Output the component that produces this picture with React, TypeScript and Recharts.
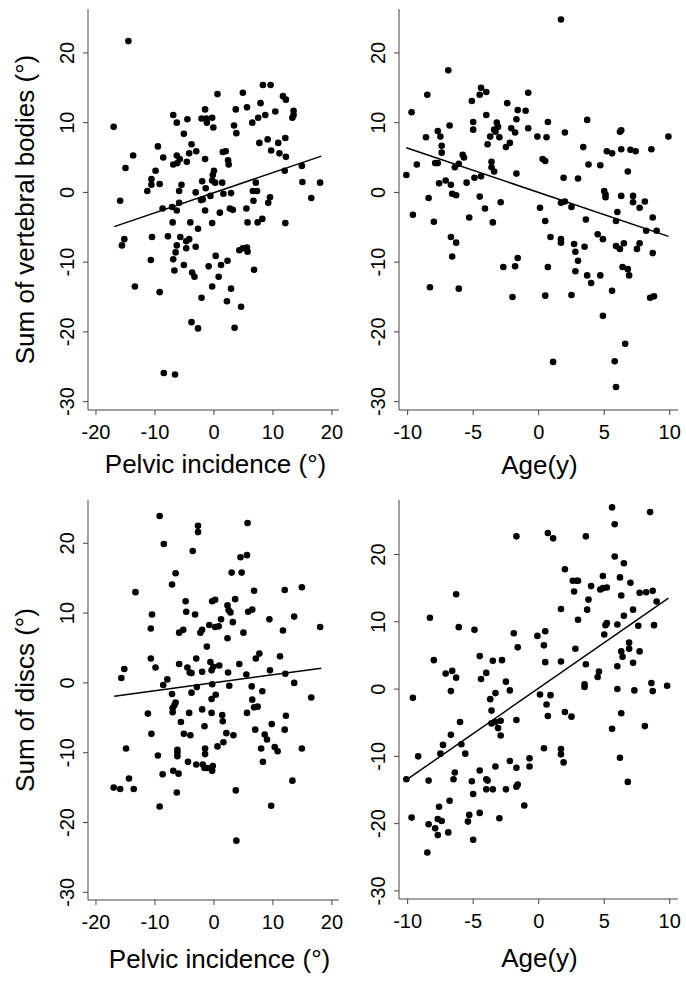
import { ScatterChart, Scatter, XAxis, YAxis, ReferenceLine } from 'recharts';

const FONT = '"Liberation Sans", Arial, Helvetica, sans-serif';

type Pt = [number, number];

// sum of vertebral bodies vs pelvic incidence
const vertebralPelvic: Pt[] = [
  [-14.5, 21.7], [-17.0, 9.4], [-13.7, 5.3], [-15.0, 3.5], [-15.9, -1.2], [-11.3, 0.2], [-10.6, 1.9], [-10.6, 1.1],
  [-9.9, 3.1], [-9.2, 1.2], [-9.5, 6.6], [-8.6, 5.0], [-8.7, -2.3], [-6.9, 11.1], [-6.3, 10.0], [-5.1, 8.4],
  [-6.3, 5.3], [-6.9, 4.0], [-6.2, 4.2], [-5.8, 4.8], [-5.5, 1.1], [-5.9, 0.2], [-7.1, -2.1], [-6.3, -2.6],
  [-5.9, -1.5], [-7.0, -4.3], [-4.5, 10.5], [-4.6, 4.4], [-4.2, 5.6], [-3.8, 6.9], [-3.0, 5.9], [-3.1, 0.0],
  [-4.0, -4.3], [-2.7, -5.2], [-2.0, 1.6], [-2.2, -1.1], [-1.9, -1.0], [-1.5, 11.9], [-2.1, 10.6], [-1.2, 10.0],
  [-1.3, 10.6], [-0.3, 10.7], [-0.1, 9.3], [-1.5, 4.8], [-1.4, 0.6], [-1.5, -2.6], [-0.6, -0.5], [-0.3, 1.7],
  [-0.2, 2.5], [0.0, 3.1], [0.2, 1.4], [-0.3, -4.4], [0.6, 14.1], [1.0, -2.9], [1.5, 5.8], [2.0, 5.9],
  [1.4, 1.4], [1.6, -0.2], [2.4, 4.6], [2.5, 4.0], [2.7, -2.3], [2.9, -0.1], [3.2, -2.5], [3.4, 9.6],
  [3.8, 8.5], [3.7, 11.9], [4.9, 14.3], [5.6, 12.2], [5.5, -2.3], [5.7, -4.3], [6.5, 10.0], [7.5, 10.7],
  [7.9, 12.8], [8.3, 15.4], [9.6, 15.4], [8.7, 11.1], [10.4, 11.6], [7.7, 7.1], [9.1, 7.6], [9.7, 6.0],
  [10.9, 7.1], [11.1, 5.6], [12.1, 7.8], [12.2, 5.1], [12.0, 3.1], [11.7, 13.8], [12.2, 13.3], [13.5, 11.7],
  [13.5, 11.1], [13.3, 10.7], [7.1, 1.4], [6.6, 0.2], [7.3, 0.2], [6.7, -1.2], [9.5, -0.7], [9.2, -1.5],
  [8.2, -3.8], [7.4, -4.3], [12.1, -4.4], [14.9, 3.8], [15.0, 1.5], [16.5, -0.8], [18.0, 1.4],
  [-15.6, -7.6], [-15.2, -6.7], [-10.5, -6.4], [-10.7, -9.7], [-13.4, -13.5], [-9.2, -14.3], [-7.8, -6.3],
  [-6.3, -7.6], [-6.5, -8.6], [-6.9, -9.6], [-6.7, -11.2], [-5.7, -6.4], [-4.7, -7.0], [-4.2, -6.7], [-4.7, -8.0],
  [-3.1, -7.8], [-5.1, -10.4], [-3.7, -11.5], [-3.3, -12.1], [-2.1, -15.1], [-3.8, -18.6], [-2.7, -19.5],
  [-8.5, -25.9], [-6.6, -26.1], [-0.9, -10.6], [0.3, -9.1], [-0.3, -13.5], [0.8, -12.1], [1.2, -10.4],
  [2.3, -9.8], [2.9, -13.8], [2.2, -15.6], [4.6, -16.4], [3.5, -19.4], [4.3, -8.3], [4.9, -8.0], [5.6, -7.9],
  [5.7, -8.5], [6.8, -11.1],
];

// sum of vertebral bodies vs age
const vertebralAge: Pt[] = [
  [-10.1, 2.5], [-9.7, 11.5], [-9.6, -3.2], [-9.3, 4.0], [-8.5, 14.0], [-8.6, 7.9], [-8.4, -0.8], [-8.0, -4.2],
  [-7.9, 4.2], [-7.7, 4.2], [-7.7, 8.8], [-7.5, 8.0], [-7.4, 6.7], [-7.4, 5.7], [-7.6, 1.3], [-7.1, 1.7],
  [-6.9, 17.5], [-6.8, 9.6], [-6.7, 1.1], [-6.6, -0.2], [-6.3, -0.4], [-6.4, 3.6], [-6.1, 4.1], [-5.8, 5.4],
  [-5.7, 5.0], [-5.3, -3.6], [-5.5, 1.4], [-5.1, 13.1], [-5.0, 10.1], [-5.0, 9.0], [-4.9, 2.1], [-4.4, 15.0],
  [-4.5, 14.0], [-4.0, 14.4], [-4.5, -0.6], [-4.4, 2.3], [-4.1, -2.3], [-4.0, 11.1], [-3.9, 6.9], [-3.7, 8.0],
  [-3.6, 4.4], [-3.6, 3.6], [-3.4, 3.0], [-3.5, -4.3], [-3.2, 10.0], [-3.3, 8.7], [-3.1, 9.4], [-3.4, 9.0],
  [-3.0, 7.9], [-2.9, -1.4], [-2.5, 6.5], [-2.4, 12.8], [-2.2, 7.1], [-2.1, 9.2], [-1.8, 8.6], [-1.7, 10.5],
  [-1.6, 11.8], [-1.7, 2.7], [-1.0, 11.7], [-0.8, 14.3], [-0.8, 9.2], [-0.1, 8.0], [0.1, -2.2], [0.3, 4.8],
  [0.5, 4.5], [0.5, -4.1], [0.6, 7.9], [0.7, 10.1], [1.7, 24.8], [1.9, 2.1], [2.0, 8.6], [1.7, -1.5],
  [2.0, -1.3], [2.5, -2.1], [3.0, 2.0], [3.4, 6.5], [3.7, 10.4], [3.8, 4.0], [3.6, -3.9], [4.7, 3.9],
  [5.2, 5.9], [5.6, 5.6], [5.0, 0.2], [5.1, -0.7], [5.1, -0.3], [6.2, 8.7], [6.3, 8.9], [6.3, 6.2],
  [6.3, -0.5], [6.0, -2.8], [5.9, -4.1], [6.8, 3.0], [7.0, 6.1], [7.4, 5.9], [7.2, -0.5], [7.2, -1.4],
  [7.7, -2.2], [8.1, -1.3], [8.6, 6.2], [8.7, -3.6], [9.9, 8.0], [8.2, -5.5], [9.0, -5.5],
  [-6.7, -6.4], [-6.3, -7.2], [-6.6, -9.2], [-8.3, -13.6], [-6.1, -13.8], [-2.7, -10.7], [-1.8, -10.6],
  [-1.6, -9.4], [-2.0, -15.0], [0.5, -14.8], [0.7, -10.7], [0.9, -6.4], [1.7, -6.7], [1.7, -7.2], [1.1, -24.3],
  [2.5, -14.7], [2.7, -7.4], [2.8, -8.5], [3.0, -9.8], [2.8, -11.3], [3.5, -7.8], [3.7, -11.9], [4.0, -13.0],
  [4.5, -6.0], [4.9, -6.7], [4.7, -11.9], [4.9, -17.7], [5.6, -14.1], [5.8, -24.2], [5.9, -27.9], [5.9, -7.7],
  [6.2, -8.1], [6.5, -7.3], [6.4, -10.7], [6.8, -11.0], [6.9, -11.9], [6.6, -21.7], [7.5, -8.1], [7.7, -7.3],
  [8.7, -8.7], [8.5, -15.1], [8.8, -14.9],
];

// sum of discs vs pelvic incidence
const discsPelvic: Pt[] = [
  [-9.2, 23.9], [-8.5, 19.9], [-13.3, 13.0], [-10.5, 9.8], [-10.7, 7.8], [-10.7, 3.5], [-9.9, 2.2], [-15.7, 0.7],
  [-15.2, 2.0], [-11.2, -4.4], [-8.6, -0.3], [-7.9, 0.5], [-7.1, 14.1], [-6.5, 15.7], [-7.1, -1.6], [-6.5, -2.8],
  [-6.7, -3.2], [-7.0, -3.6], [-7.0, -4.2], [-5.9, 2.7], [-5.6, -5.6], [-4.8, 11.7], [-4.7, 10.2], [-5.9, 7.2],
  [-5.2, 7.6], [-4.5, 2.2], [-4.1, 1.5], [-3.8, 1.4], [-3.8, -1.4], [-4.2, -4.3], [-3.6, 18.9], [-2.7, 22.5],
  [-2.7, 21.6], [-3.2, 9.8], [-3.0, 3.5], [-2.9, -0.6], [-2.0, 1.6], [-2.3, 7.2], [-2.0, 7.6], [-1.2, 5.2],
  [-2.0, -3.8], [-1.6, -6.2], [-0.8, 8.3], [-0.6, 3.0], [-0.3, 11.7], [0.2, 11.9], [0.2, 8.0], [0.8, 8.1],
  [1.2, 9.1], [-0.4, 1.8], [-0.1, 2.3], [0.9, 2.5], [-0.3, -0.2], [0.3, -1.7], [-0.4, -2.3], [-0.4, -4.3],
  [1.4, -4.6], [1.5, -5.5], [2.3, 11.1], [2.5, 10.4], [2.8, 10.1], [2.3, 6.4], [2.4, 1.5], [2.6, -0.4],
  [3.0, 15.8], [3.2, 8.7], [3.6, 12.0], [4.3, 2.7], [4.5, 18.0], [4.7, 15.8], [5.0, 7.2], [5.7, 22.9],
  [5.6, 18.3], [5.5, 1.2], [5.6, -4.3], [5.8, 10.2], [6.5, 10.5], [6.4, -0.5], [6.8, 13.2], [6.5, -2.4],
  [6.8, -3.5], [7.4, -3.4], [7.1, 3.5], [7.7, 4.2], [7.0, -6.7], [8.2, -1.2], [9.4, 9.1], [9.5, 1.8],
  [9.8, -5.9], [11.2, 3.8], [11.7, 7.5], [12.0, 13.3], [12.1, 1.3], [12.2, -4.7], [12.0, -6.7], [13.6, 9.5],
  [13.6, 0.0], [14.9, 13.7], [16.5, -2.1], [18.0, 8.0],
  [-17.0, -15.0], [-15.9, -15.2], [-13.6, -15.2], [-14.4, -13.7], [-14.9, -9.4], [-10.6, -7.3], [-9.5, -10.4],
  [-8.7, -13.1], [-9.2, -17.7], [-6.9, -12.6], [-6.2, -9.6], [-6.2, -10.0], [-6.2, -10.5], [-6.0, -13.0],
  [-6.3, -15.7], [-5.1, -7.3], [-4.0, -7.5], [-4.4, -11.3], [-3.0, -11.7], [-1.9, -11.7], [-1.5, -9.4],
  [-1.5, -10.2], [-1.6, -12.2], [-1.1, -12.2], [-0.2, -11.9], [-0.3, -12.6], [0.6, -9.1], [1.6, -8.5],
  [2.1, -7.2], [3.3, -7.5], [3.7, -15.4], [3.8, -22.6], [8.0, -9.4], [8.3, -11.3], [8.6, -7.4], [9.0, -8.1],
  [10.3, -9.2], [10.8, -9.8], [13.3, -14.0], [14.9, -9.4], [9.7, -17.6],
];

// sum of discs vs age
const discsAge: Pt[] = [
  [-9.6, -1.3], [-8.3, 10.6], [-8.0, 4.3], [-7.1, 2.3], [-6.6, 2.7], [-6.3, 1.7], [-6.7, -0.3], [-6.3, 14.1],
  [-6.1, 9.2], [-6.0, -4.9], [-4.9, 8.8], [-4.5, 4.9], [-4.4, 1.5], [-4.0, 2.4], [-3.5, 4.2], [-2.8, 4.3],
  [-3.7, -1.5], [-3.3, -0.6], [-3.6, -3.2], [-3.6, -5.1], [-3.3, -4.9], [-2.9, -4.7], [-3.1, -5.8], [-2.5, 1.1],
  [-2.2, -0.2], [-1.7, 22.7], [-1.9, 8.3], [-1.6, 6.2], [-1.7, -4.6], [-0.1, 7.9], [0.1, -0.8], [0.5, 8.6],
  [0.4, 6.5], [0.5, 4.0], [0.6, -2.3], [0.9, -0.9], [0.7, -4.0], [0.7, 23.2], [1.1, 22.4], [1.7, 11.9],
  [1.7, 4.1], [2.0, 17.8], [2.0, -3.4], [2.5, -4.1], [2.6, 16.1], [2.7, 14.5], [2.9, 16.1], [3.0, 16.1],
  [2.8, 6.0], [3.0, 10.3], [3.6, 3.7], [3.5, 0.7], [3.5, 0.3], [3.6, 22.7], [3.8, 13.3], [3.7, 11.8],
  [4.0, 15.3], [4.5, 1.8], [4.6, 2.6], [4.7, 14.8], [4.9, 15.0], [5.2, 15.1], [4.9, 16.8], [5.0, 8.1],
  [5.1, 9.5], [5.2, 9.8], [5.6, 27.0], [5.8, 24.5], [5.8, 19.7], [6.0, 9.6], [6.0, 3.4], [6.0, 0.0],
  [5.6, -5.9], [6.2, 16.6], [6.5, 18.7], [6.3, 13.9], [6.3, 5.6], [6.4, 4.8], [6.5, 10.9], [6.3, -3.6],
  [6.9, 6.9], [6.9, 6.0], [7.0, 15.8], [7.2, 11.8], [7.2, 3.9], [7.3, -0.2], [7.6, 9.4], [7.7, 5.6],
  [7.7, 14.3], [8.2, 14.4], [8.1, -5.5], [8.5, 26.3], [8.7, 14.6], [9.0, 13.0], [8.8, 9.5], [8.6, 0.9],
  [8.7, -0.3], [9.8, 0.5],
  [-10.1, -13.4], [-9.7, -19.1], [-9.2, -10.0], [-8.4, -13.6], [-8.5, -24.3], [-8.4, -20.1], [-7.9, -20.7],
  [-7.7, -19.3], [-7.7, -21.7], [-7.6, -17.5], [-7.4, -19.6], [-7.5, -9.6], [-7.3, -8.3], [-6.7, -6.8],
  [-6.8, -16.6], [-6.9, -21.3], [-6.5, -13.4], [-6.4, -12.4], [-5.9, -8.2], [-5.6, -9.6], [-5.4, -19.7],
  [-5.3, -18.7], [-5.1, -13.7], [-5.0, -15.6], [-5.0, -22.4], [-4.5, -12.1], [-4.5, -18.4], [-4.0, -13.4],
  [-3.9, -13.6], [-4.0, -14.9], [-3.5, -14.9], [-3.3, -11.5], [-2.9, -6.9], [-3.0, -19.2], [-2.5, -14.9],
  [-2.2, -10.7], [-1.7, -11.7], [-1.7, -14.5], [-1.6, -14.2], [-1.1, -17.3], [-0.7, -10.3], [-0.7, -11.5],
  [0.4, -8.8], [1.7, -8.9], [1.7, -9.7], [1.9, -10.9], [6.2, -10.2], [6.8, -13.8],
];

// fitted lines, end points
const vertebralPelvicFit: Pt[] = [[-16.9, -4.9], [18.2, 5.2]];
const vertebralAgeFit: Pt[] = [[-10.1, 6.4], [9.9, -6.3]];
const discsPelvicFit: Pt[] = [[-16.9, -1.9], [18.2, 2.1]];
const discsAgeFit: Pt[] = [[-10.1, -13.5], [9.9, 13.5]];

const pelvicTicks = [-20, -10, 0, 10, 20];
const ageTicks = [-10, -5, 0, 5, 10];
const sumTicks = [-30, -20, -10, 0, 10, 20];

const YTick = (props: any) => {
  const { x, y, payload } = props;
  return (
    <g transform={`translate(${x - 9},${y}) rotate(-90)`}>
      <text x={0} y={0} textAnchor="middle" fill="#000" fontSize={20} fontFamily={FONT}>
        {payload.value}
      </text>
    </g>
  );
};

const Dot = (props: any) => <circle cx={props.cx} cy={props.cy} r={3.3} fill="#000" />;

type PanelProps = {
  left: number;
  top: number;
  height: number;
  margin: { top: number; right: number; bottom: number; left: number };
  yAxisWidth: number;
  xDomain: [number, number];
  yDomain: [number, number];
  xTicks: number[];
  points: Pt[];
  fit: Pt[];
  xTitle: string;
  xTitleDx: number;
  xTitleDy: number;
  yTitle?: string;
};

function Panel(props: PanelProps) {
  const { left, top, height, margin, yAxisWidth, xDomain, yDomain, xTicks, points, fit, xTitle, xTitleDx, xTitleDy, yTitle } = props;
  const data = points.map(([x, y]) => ({ x, y }));
  return (
    <div style={{ position: 'absolute', left, top }}>
      <ScatterChart width={343} height={height} margin={margin}>
        <XAxis
          type="number"
          dataKey="x"
          domain={xDomain}
          ticks={xTicks}
          allowDataOverflow
          tickSize={5}
          tickMargin={10}
          stroke="#444"
          tick={{ fill: '#000', fontSize: 20, fontFamily: FONT }}
          height={70}
          label={(p: any) => (
            <text
              x={p.viewBox.x + p.viewBox.width / 2 + xTitleDx}
              y={p.viewBox.y + xTitleDy}
              textAnchor="middle"
              fill="#000"
              fontSize={26}
              fontFamily={FONT}
            >
              {xTitle}
            </text>
          )}
        />
        <YAxis
          type="number"
          dataKey="y"
          domain={yDomain}
          ticks={sumTicks}
          allowDataOverflow
          tickSize={5}
          tickMargin={0}
          stroke="#444"
          width={yAxisWidth}
          tick={<YTick />}
          label={
            yTitle
              ? (p: any) => {
                  const cy = p.viewBox.y + p.viewBox.height / 2;
                  return (
                    <text
                      transform={`translate(34,${cy}) rotate(-90)`}
                      textAnchor="middle"
                      fill="#000"
                      fontSize={26}
                      fontFamily={FONT}
                    >
                      {yTitle}
                    </text>
                  );
                }
              : undefined
          }
        />
        <Scatter data={data} shape={<Dot />} isAnimationActive={false} />
        <ReferenceLine
          segment={[
            { x: fit[0][0], y: fit[0][1] },
            { x: fit[1][0], y: fit[1][1] },
          ]}
          stroke="#000"
          strokeWidth={1.5}
        />
      </ScatterChart>
    </div>
  );
}

export default function App() {
  return (
    <div style={{ position: 'absolute', left: 0, top: 0, width: 686, height: 981, background: '#fff' }}>
      <Panel
        left={0}
        top={0}
        height={490}
        margin={{ top: 9, right: 4, bottom: 10, left: 0 }}
        yAxisWidth={88}
        xDomain={[-21.35, 21.2]}
        yDomain={[-31.2, 26.3]}
        xTicks={pelvicTicks}
        points={vertebralPelvic}
        fit={vertebralPelvicFit}
        xTitle="Pelvic incidence (°)"
        xTitleDx={2}
        xTitleDy={63}
        yTitle="Sum of vertebral bodies (°)"
      />
      <Panel
        left={343}
        top={0}
        height={490}
        margin={{ top: 9, right: 8, bottom: 10, left: 0 }}
        yAxisWidth={56}
        xDomain={[-10.66, 10.63]}
        yDomain={[-31.2, 26.3]}
        xTicks={ageTicks}
        points={vertebralAge}
        fit={vertebralAgeFit}
        xTitle="Age(y)"
        xTitleDx={1}
        xTitleDy={64}
      />
      <Panel
        left={0}
        top={490}
        height={491}
        margin={{ top: 10, right: 4, bottom: 11, left: 0 }}
        yAxisWidth={88}
        xDomain={[-21.35, 21.2]}
        yDomain={[-31.1, 26.2]}
        xTicks={pelvicTicks}
        points={discsPelvic}
        fit={discsPelvicFit}
        xTitle="Pelvic incidence (°)"
        xTitleDx={6}
        xTitleDy={68}
        yTitle="Sum of discs (°)"
      />
      <Panel
        left={343}
        top={490}
        height={491}
        margin={{ top: 10, right: 8, bottom: 12, left: 0 }}
        yAxisWidth={56}
        xDomain={[-10.66, 10.63]}
        yDomain={[-31.2, 28.1]}
        xTicks={ageTicks}
        points={discsAge}
        fit={discsAgeFit}
        xTitle="Age(y)"
        xTitleDx={1}
        xTitleDy={68}
      />
    </div>
  );
}
